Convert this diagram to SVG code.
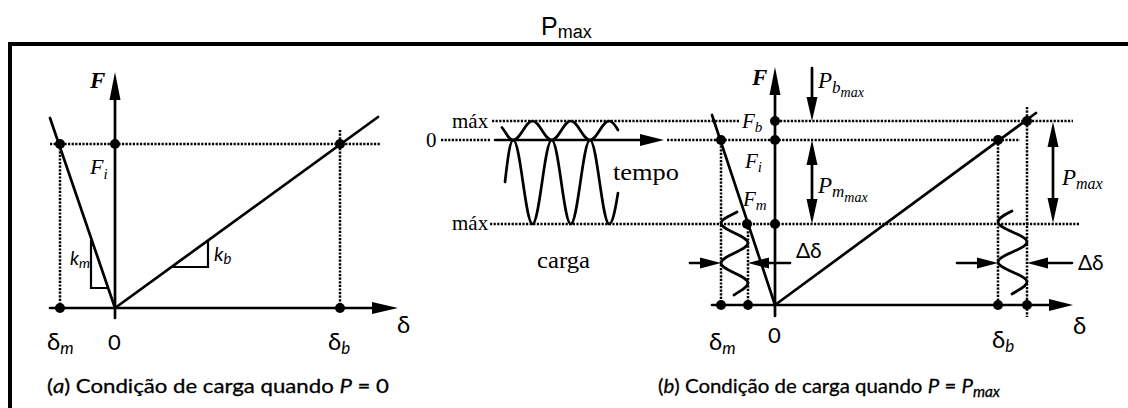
<svg xmlns="http://www.w3.org/2000/svg" width="1128" height="408" viewBox="0 0 1128 408">
<defs>
<style>
.ln{stroke:#000;stroke-width:2.7;fill:none;stroke-linecap:round;stroke-linejoin:round}
.th{stroke:#000;stroke-width:2.2;fill:none}
.dt{stroke:#000;stroke-width:2.5;fill:none;stroke-dasharray:2.2 1.4}
.ah{fill:#000}
.dot{fill:#000}
.it{font-family:"Liberation Serif",serif;font-style:italic;fill:#000}
.rm{font-family:"Liberation Serif",serif;fill:#000}
.op{font-family:Lato,"Liberation Sans",sans-serif;fill:#000}
.cap{font-family:Lato,"Liberation Sans",sans-serif;fill:#000;stroke:#000;stroke-width:0.3}
</style>
</defs>
<rect width="1128" height="408" fill="#fff"/>
<g id="title"><text font-family="Liberation Sans,sans-serif" x="541" y="35" font-size="25">P<tspan font-size="18" dy="3">max</tspan></text></g>
<g id="frame"><path d="M10,408 V44 H1128" stroke="#000" stroke-width="4" fill="none"/></g>

<g id="part-a">
 <g id="connectors-a">
  <path class="dt" d="M50,144 H381"/>
  <path class="dt" d="M60,144 V308"/>
  <path class="dt" d="M340,130 V308"/>
  <path class="ln" d="M115,318 V98"/>
  <polygon class="ah" points="115,72 109.5,100 120.5,100"/>
  <path class="ln" d="M50,308 H374"/>
  <polygon class="ah" points="398,308 372,302 372,314"/>
  <path class="ln" d="M50,118 L115,308"/>
  <path class="ln" d="M115,308 L378,117"/>
  <path class="th" d="M91,240 V288 H108"/>
  <path class="th" d="M172,267 H208 V241"/>
 </g>
 <g id="points-a">
  <circle class="dot" cx="60" cy="144" r="5"/>
  <circle class="dot" cx="115" cy="144" r="5"/>
  <circle class="dot" cx="340" cy="144" r="5"/>
  <circle class="dot" cx="60" cy="308" r="5"/>
  <circle class="dot" cx="340" cy="308" r="5"/>
 </g>
 <g id="labels-a">
  <text class="it" x="90" y="88" font-size="23" font-weight="bold">F</text>
  <text class="it" x="90" y="174" font-size="22">F<tspan font-size="15" dy="5">i</tspan></text>
  <text class="op" x="70" y="265" font-size="19" font-style="italic">k<tspan font-size="14" dy="3">m</tspan></text>
  <text class="op" x="214" y="261" font-size="20" font-style="italic">k<tspan font-size="15" dy="3">b</tspan></text>
  <text class="op" x="47" y="350" font-size="24">δ<tspan font-size="17" dy="4" font-style="italic">m</tspan></text>
  <text class="op" x="108" y="350" font-size="22">0</text>
  <text class="op" x="328" y="350" font-size="24">δ<tspan font-size="17" dy="4" font-style="italic">b</tspan></text>
  <text class="op" x="397" y="333" font-size="24">δ</text>
  <text class="cap" x="47" y="393" font-size="20" textLength="342" lengthAdjust="spacingAndGlyphs">(<tspan font-style="italic">a</tspan>)  Condição de carga quando <tspan font-style="italic">P</tspan> = 0</text>
 </g>
</g>

<g id="part-b">
 <g id="load-plot">
  <text class="rm" x="452" y="128" font-size="21">máx</text>
  <text class="rm" x="426" y="147" font-size="21">0</text>
  <text class="rm" x="452" y="230" font-size="21">máx</text>
  <text class="rm" x="613" y="180" font-size="24" textLength="66" lengthAdjust="spacingAndGlyphs">tempo</text>
  <text class="rm" x="537" y="268" font-size="23" textLength="53" lengthAdjust="spacingAndGlyphs">carga</text>
  <path class="dt" d="M441,140 H490"/>
  <path class="ln" d="M495,140 H642"/>
  <polygon class="ah" points="664,140 640,134 640,146"/>
  <path class="ln" d="M502,127.5 C506.5,133 508.5,140 513.3,140 C520.3,140 525.5,121 532.5,121 C539.5,121 544.7,140 551.7,140 C558.7,140 563.8,121 570.8,121 C577.8,121 583,140 590,140 C597,140 602.2,121 609.2,121 C613,121 615.5,126 618,130"/>
  <path class="ln" d="M505,182 C507,165 509.5,140 513.3,140 C520.3,140 525.5,224 532.5,224 C539.5,224 544.7,140 551.7,140 C558.7,140 563.8,224 570.8,224 C577.8,224 583,140 590,140 C597,140 602.2,224 609.2,224 C613,224 616,205 618,193"/>
 </g>
 <g id="connectors-b">
  <path class="dt" d="M492,121 H740"/>
  <path class="dt" d="M780,121 H1073"/>
  <path class="dt" d="M667,140 H1020"/>
  <path class="dt" d="M490,224 H1080"/>
  <path class="dt" d="M721,142 V305"/>
  <path class="dt" d="M748,224 V305"/>
  <path class="dt" d="M998,140 V305"/>
  <path class="dt" d="M1027,107 V317"/>
  <path class="ln" d="M775,316 V93"/>
  <polygon class="ah" points="775,67 769.5,95 780.5,95"/>
  <path class="ln" d="M712,305 H1050"/>
  <polygon class="ah" points="1073,305 1049,299 1049,311"/>
  <path class="ln" d="M712,115 L775,305"/>
  <path class="ln" d="M775,305 L1036,113"/>
  <path class="ln" d="M812,68 V100"/>
  <polygon class="ah" points="812,121 806.5,97 817.5,97"/>
  <path class="ln" d="M812,162 V202"/>
  <polygon class="ah" points="812,140 806.5,165 817.5,165"/>
  <polygon class="ah" points="812,224 806.5,199 817.5,199"/>
  <path class="ln" d="M1053,144 V201"/>
  <polygon class="ah" points="1053,122 1047.5,147 1058.5,147"/>
  <polygon class="ah" points="1053,223 1047.5,198 1058.5,198"/>
  <path class="ln" d="M737,212 C730,216 721,219 721,223 C721,230.3 748,235.7 748,243 C748,250.3 721,255.7 721,263 C721,270.3 748,275.7 748,283 C748,287 742,290 734,295"/>
  <path class="ln" d="M1012,211 C1004,215 998,218 998,222 C998,229.3 1027,234.7 1027,242 C1027,249.3 998,254.7 998,262 C998,269.3 1027,274.7 1027,282 C1027,286 1020,289 1012,294"/>
  <path class="ln" d="M690,263 H702"/>
  <polygon class="ah" points="721,263 700,257.5 700,268.5"/>
  <path class="ln" d="M790,263 H768"/>
  <polygon class="ah" points="748,263 769,257.5 769,268.5"/>
  <path class="ln" d="M957,263 H979"/>
  <polygon class="ah" points="998,263 977,257.5 977,268.5"/>
  <path class="ln" d="M1072,263 H1046"/>
  <polygon class="ah" points="1027,263 1048,257.5 1048,268.5"/>
 </g>
 <g id="points-b">
  <circle class="dot" cx="721" cy="140" r="5"/>
  <circle class="dot" cx="775" cy="121" r="5"/>
  <circle class="dot" cx="775" cy="140" r="5"/>
  <circle class="dot" cx="747" cy="224" r="5"/>
  <circle class="dot" cx="775" cy="224" r="5"/>
  <circle class="dot" cx="998" cy="140" r="5"/>
  <circle class="dot" cx="1027" cy="121" r="5"/>
  <circle class="dot" cx="721" cy="305" r="5"/>
  <circle class="dot" cx="748" cy="305" r="5"/>
  <circle class="dot" cx="998" cy="305" r="5"/>
  <circle class="dot" cx="1027" cy="305" r="5"/>
 </g>
 <g id="labels-b">
  <text class="it" x="752" y="85" font-size="23" font-weight="bold">F</text>
  <text class="it" x="742" y="128" font-size="21">F<tspan font-size="15" dy="4">b</tspan></text>
  <text class="it" x="745" y="168" font-size="21">F<tspan font-size="15" dy="4">i</tspan></text>
  <text class="it" x="743" y="206" font-size="21">F<tspan font-size="15" dy="4">m</tspan></text>
  <text class="it" x="818" y="88" font-size="23">P<tspan font-size="17" dy="5">b</tspan><tspan font-size="14" dy="4">max</tspan></text>
  <text class="it" x="818" y="193" font-size="23">P<tspan font-size="17" dy="4">m</tspan><tspan font-size="14" dy="5">max</tspan></text>
  <text class="it" x="1062" y="185" font-size="23">P<tspan font-size="16" dy="4">max</tspan></text>
  <text class="op" x="796" y="258" font-size="21">Δδ</text>
  <text class="op" x="1078" y="270" font-size="21">Δδ</text>
  <text class="op" x="709" y="350" font-size="24">δ<tspan font-size="17" dy="4" font-style="italic">m</tspan></text>
  <text class="op" x="768" y="343" font-size="22">0</text>
  <text class="op" x="992" y="348" font-size="24">δ<tspan font-size="17" dy="4" font-style="italic">b</tspan></text>
  <text class="op" x="1073" y="334" font-size="24">δ</text>
  <text class="cap" x="658" y="393" font-size="20" textLength="342" lengthAdjust="spacingAndGlyphs">(<tspan font-style="italic">b</tspan>)  Condição de carga quando <tspan font-style="italic">P</tspan> = <tspan font-style="italic">P</tspan><tspan font-style="italic" font-size="15" dy="4">max</tspan></text>
 </g>
</g>
</svg>
